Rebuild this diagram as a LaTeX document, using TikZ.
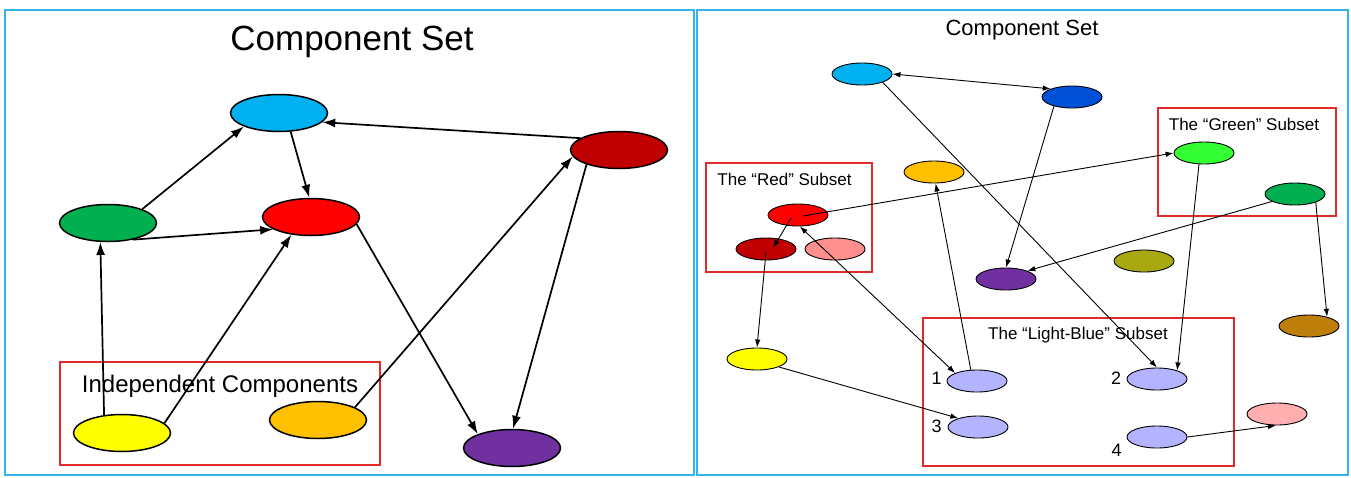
\documentclass[tikz,border=0pt]{standalone}
\usepackage{fontspec}
\setmainfont{Liberation Sans}
\usetikzlibrary{arrows.meta,shapes.geometric,calc}
\definecolor{framecol}{HTML}{33B5E8}
\definecolor{boxred}{HTML}{E32A2A}
\definecolor{cLBlue}{HTML}{00B0F0}
\definecolor{cDkRed}{HTML}{C00000}
\definecolor{cGreen}{HTML}{00B050}
\definecolor{cRed}{HTML}{FF0000}
\definecolor{cYellow}{HTML}{FFFF00}
\definecolor{cOrange}{HTML}{FFC000}
\definecolor{cPurple}{HTML}{7030A0}
\definecolor{cBlue}{HTML}{0050D8}
\definecolor{cBGreen}{HTML}{33FF33}
\definecolor{cPink}{HTML}{FF8F8F}
\definecolor{cLPink}{HTML}{FFAFAF}
\definecolor{cOlive}{HTML}{A8A812}
\definecolor{cBrown}{HTML}{BD7E0A}
\definecolor{cLav}{HTML}{B3B3FF}
\tikzset{
  bigell/.style={ellipse, draw=black, line width=1.5pt, minimum width=97pt, minimum height=37pt, inner sep=0pt, fill=#1},
  smallell/.style={ellipse, draw=black, line width=0.9pt, minimum width=60pt, minimum height=22pt, inner sep=0pt, fill=#1},
  bigarr/.style={line width=1.7pt, -{Latex[length=13pt,width=9pt]}},
  smallarr/.style={line width=0.9pt, -{Latex[length=8pt,width=5.5pt]}},
  smallbiarr/.style={line width=0.9pt, {Latex[length=8pt,width=5.5pt]}-{Latex[length=8pt,width=5.5pt]}},
  subsetbox/.style={draw=boxred, line width=2pt},
  panelframe/.style={draw=framecol, line width=2pt},
  lbl/.style={inner sep=0pt, anchor=base, text=black}
}
\begin{document}
\begin{tikzpicture}[x=1pt,y=-1pt]
\useasboundingbox (0,0) rectangle (1351,477);
\fill[white] (0,0) rectangle (1351,477);
% panel frames
\draw[panelframe] (5,10) rectangle (694,475);
\draw[panelframe] (697,10) rectangle (1348,475);
% subset boxes
\draw[subsetbox, line width=2.5pt] (60,362) rectangle (380,465);
\draw[subsetbox] (1158,108) rectangle (1336,216);
\draw[subsetbox] (706,163) rectangle (872,272);
\draw[subsetbox] (923,318) rectangle (1234,466);
% texts
\node[lbl, font=\fontsize{35}{40}\selectfont] (t1) at (352,50) {Component Set};
\node[lbl, font=\fontsize{24}{28}\selectfont] (t2) at (220,392) {Independent Components};
\node[lbl, font=\fontsize{22}{26}\selectfont] (t3) at (1022,35) {Component Set};
\node[lbl, font=\fontsize{17}{20}\selectfont] (t4) at (1244,130) {The “Green” Subset};
\node[lbl, font=\fontsize{17}{20}\selectfont] (t5) at (784.5,185) {The “Red” Subset};
\node[lbl, font=\fontsize{17}{20}\selectfont] (t6) at (1078,339) {The “Light-Blue” Subset};
\node[lbl, font=\fontsize{18}{20}\selectfont] (n1) at (936.5,384) {1};
\node[lbl, font=\fontsize{18}{20}\selectfont] (n2) at (1116,384) {2};
\node[lbl, font=\fontsize{18}{20}\selectfont] (n3) at (936.5,432) {3};
\node[lbl, font=\fontsize{18}{20}\selectfont] (n4) at (1116.5,456) {4};
% left nodes
\node[bigell=cLBlue] (lLB) at (279,113) {};
\node[bigell=cDkRed] (lDR) at (619,150) {};
\node[bigell=cGreen] (lG) at (108,223) {};
\node[bigell=cRed] (lR) at (311,217) {};
\node[bigell=cYellow] (lY) at (122,433) {};
\node[bigell=cOrange] (lO) at (318,420) {};
\node[bigell=cPurple] (lP) at (512,448) {};
% left arrows
\draw[bigarr] (lDR.163) -- (lLB.348);
\draw[bigarr] (lLB.302) -- (lR.95);
\draw[bigarr] (lG.22) -- (lLB.201);
\draw[bigarr] (lG.326) -- (lR.198);
\draw[bigarr] (lY.135) -- (lG.248);
\draw[bigarr] (lY.13) -- (lR.222);
\draw[bigarr] (lO.19) -- (lDR.188);
\draw[bigarr] (lR.351) -- (lP.158);
\draw[bigarr] (lDR.204) -- (lP.87);
% right nodes
\node[smallell=cLBlue] (rLB) at (862,74) {};
\node[smallell=cBlue] (rB) at (1072,97) {};
\node[smallell=cBGreen] (rBG) at (1204,153) {};
\node[smallell=cGreen] (rG) at (1295,194) {};
\node[smallell=cOrange] (rO) at (934,172) {};
\node[smallell=cRed] (rR) at (798,215) {};
\node[smallell=cDkRed] (rDR) at (766,249) {};
\node[smallell=cPink] (rPk) at (835,249) {};
\node[smallell=cPurple] (rP) at (1006,279) {};
\node[smallell=cOlive] (rOl) at (1144,261) {};
\node[smallell=cBrown] (rBr) at (1309,326) {};
\node[smallell=cYellow] (rY) at (757,359) {};
\node[smallell=cLav] (r1) at (977,381) {};
\node[smallell=cLav] (r2) at (1157,379) {};
\node[smallell=cLav] (r3) at (978,427) {};
\node[smallell=cLav] (r4) at (1157,437) {};
\node[smallell=cLPink] (rLP) at (1277,414) {};
% right arrows
\draw[smallbiarr] (rLB.0) -- (rB.159);
\draw[smallarr] (rLB.338) -- (r2.90);
\draw[smallarr] (rB.207) -- (rP.90);
\draw[smallarr] ($(rR.center)+(5,1)$) -- (rBG.180);
\draw[smallarr] ($(rR.center)+(-7,3)$) -- ($(rDR.center)+(7,-1)$);
\draw[smallbiarr] (rR.279) -- (r1.160);
\draw[smallarr] (r1.119) -- (rO.278);
\draw[smallarr] ($(rDR.center)+(0,3)$) -- (rY.90);
\draw[smallarr] (rBG.246) -- (r2.23);
\draw[smallarr] (rG.198) -- (rP.21);
\draw[smallarr] (rG.338) -- (rBr.27);
\draw[smallarr] (rY.340) -- (r3.156);
\draw[smallarr] (r4.0) -- (rLP.265);
\end{tikzpicture}
\end{document}
